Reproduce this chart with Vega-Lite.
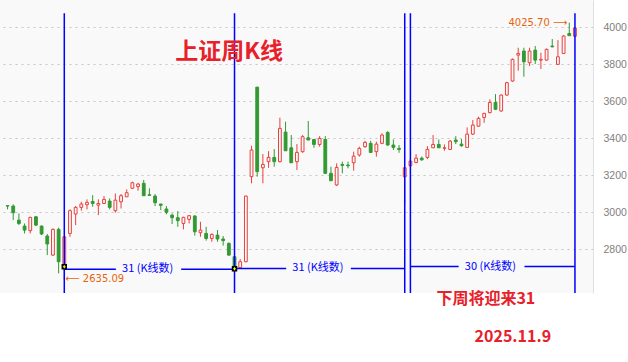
{
  "$schema": "https://vega.github.io/schema/vega-lite/v6.json",
  "width": 593,
  "height": 293,
  "autosize": {"type": "none"},
  "padding": {"left": 0, "top": 0, "right": 35, "bottom": 69},
  "background": "#ffffff",
  "config": {
    "view": {"stroke": null, "fill": "#f9f9f9"},
    "axisY": {"grid": true, "gridDash": [2, 4], "gridColor": "#c4c4c4", "gridWidth": 1, "ticks": false, "labelPadding": 10,
      "labelColor": "#808080", "labelFont": "Liberation Sans", "labelFontSize": 10.5, "domainColor": "#e0e0e0", "domainWidth": 1}
  },
  "datasets": {
    "candles": [
      {"i":0,"o":3036,"h":3036,"l":3016,"c":3034},
      {"i":1,"o":3034,"h":3043,"l":2958,"c":2998},
      {"i":2,"o":2958,"h":2994,"l":2931,"c":2940},
      {"i":3,"o":2926,"h":2940,"l":2886,"c":2904},
      {"i":4,"o":2901,"h":2976,"l":2886,"c":2973},
      {"i":5,"o":2976,"h":2980,"l":2926,"c":2931},
      {"i":6,"o":2926,"h":2928,"l":2877,"c":2883},
      {"i":7,"o":2872,"h":2883,"l":2769,"c":2829},
      {"i":8,"o":2769,"h":2913,"l":2764,"c":2908},
      {"i":9,"o":2908,"h":2917,"l":2670,"c":2733},
      {"i":10,"o":2715,"h":2872,"l":2635,"c":2868},
      {"i":11,"o":2886,"h":3016,"l":2868,"c":3009},
      {"i":12,"o":2991,"h":3034,"l":2931,"c":3027},
      {"i":13,"o":3027,"h":3057,"l":3009,"c":3045},
      {"i":14,"o":3041,"h":3070,"l":3016,"c":3054},
      {"i":15,"o":3059,"h":3093,"l":3030,"c":3048},
      {"i":16,"o":3039,"h":3070,"l":2985,"c":3048},
      {"i":17,"o":3048,"h":3088,"l":3045,"c":3070},
      {"i":18,"o":3061,"h":3075,"l":3016,"c":3027},
      {"i":19,"o":3009,"h":3102,"l":2998,"c":3066},
      {"i":20,"o":3057,"h":3099,"l":3021,"c":3090},
      {"i":21,"o":3084,"h":3124,"l":3084,"c":3106},
      {"i":22,"o":3130,"h":3166,"l":3126,"c":3160},
      {"i":23,"o":3139,"h":3160,"l":3117,"c":3153},
      {"i":24,"o":3157,"h":3175,"l":3090,"c":3090},
      {"i":25,"o":3095,"h":3130,"l":3090,"c":3092},
      {"i":26,"o":3088,"h":3099,"l":3034,"c":3052},
      {"i":27,"o":3045,"h":3046,"l":3012,"c":3038},
      {"i":28,"o":3018,"h":3034,"l":2989,"c":3000},
      {"i":29,"o":2985,"h":2994,"l":2937,"c":2971},
      {"i":30,"o":2971,"h":3007,"l":2922,"c":2955},
      {"i":31,"o":2940,"h":2976,"l":2908,"c":2973},
      {"i":32,"o":2962,"h":2985,"l":2940,"c":2982},
      {"i":33,"o":2980,"h":2985,"l":2874,"c":2895},
      {"i":34,"o":2890,"h":2949,"l":2868,"c":2904},
      {"i":35,"o":2886,"h":2922,"l":2847,"c":2859},
      {"i":36,"o":2859,"h":2886,"l":2841,"c":2881},
      {"i":37,"o":2877,"h":2904,"l":2841,"c":2856},
      {"i":38,"o":2856,"h":2872,"l":2820,"c":2847},
      {"i":39,"o":2832,"h":2838,"l":2765,"c":2769},
      {"i":40,"o":2760,"h":2762,"l":2690,"c":2706},
      {"i":41,"o":2701,"h":2748,"l":2697,"c":2733},
      {"i":42,"o":2733,"h":3090,"l":2730,"c":3088},
      {"i":43,"o":3193,"h":3360,"l":3157,"c":3337},
      {"i":44,"o":3677,"h":3677,"l":3193,"c":3220},
      {"i":45,"o":3241,"h":3315,"l":3157,"c":3259},
      {"i":46,"o":3274,"h":3331,"l":3241,"c":3297},
      {"i":47,"o":3297,"h":3342,"l":3247,"c":3274},
      {"i":48,"o":3274,"h":3512,"l":3270,"c":3454},
      {"i":49,"o":3434,"h":3490,"l":3333,"c":3333},
      {"i":50,"o":3349,"h":3418,"l":3268,"c":3268},
      {"i":51,"o":3274,"h":3369,"l":3229,"c":3324},
      {"i":52,"o":3328,"h":3418,"l":3322,"c":3409},
      {"i":53,"o":3403,"h":3494,"l":3391,"c":3391},
      {"i":54,"o":3394,"h":3394,"l":3349,"c":3367},
      {"i":55,"o":3367,"h":3412,"l":3355,"c":3400},
      {"i":56,"o":3394,"h":3412,"l":3207,"c":3211},
      {"i":57,"o":3211,"h":3247,"l":3171,"c":3171},
      {"i":58,"o":3148,"h":3265,"l":3142,"c":3243},
      {"i":59,"o":3259,"h":3274,"l":3211,"c":3254},
      {"i":60,"o":3256,"h":3274,"l":3238,"c":3252},
      {"i":61,"o":3268,"h":3328,"l":3225,"c":3304},
      {"i":62,"o":3310,"h":3355,"l":3301,"c":3346},
      {"i":63,"o":3355,"h":3387,"l":3349,"c":3378},
      {"i":64,"o":3373,"h":3387,"l":3324,"c":3324},
      {"i":65,"o":3328,"h":3382,"l":3301,"c":3369},
      {"i":66,"o":3373,"h":3427,"l":3369,"c":3418},
      {"i":67,"o":3432,"h":3439,"l":3360,"c":3364},
      {"i":68,"o":3364,"h":3394,"l":3337,"c":3351},
      {"i":69,"o":3346,"h":3364,"l":3322,"c":3340},
      {"i":70,"o":3192,"h":3245,"l":3041,"c":3241},
      {"i":71,"o":3252,"h":3290,"l":3240,"c":3277},
      {"i":72,"o":3270,"h":3315,"l":3265,"c":3293},
      {"i":73,"o":3293,"h":3302,"l":3279,"c":3284},
      {"i":74,"o":3297,"h":3358,"l":3288,"c":3340},
      {"i":75,"o":3349,"h":3418,"l":3349,"c":3367},
      {"i":76,"o":3367,"h":3394,"l":3349,"c":3349},
      {"i":77,"o":3346,"h":3367,"l":3333,"c":3349},
      {"i":78,"o":3340,"h":3391,"l":3337,"c":3385},
      {"i":79,"o":3391,"h":3412,"l":3369,"c":3382},
      {"i":80,"o":3369,"h":3396,"l":3355,"c":3360},
      {"i":81,"o":3351,"h":3459,"l":3351,"c":3423},
      {"i":82,"o":3423,"h":3499,"l":3418,"c":3472},
      {"i":83,"o":3466,"h":3517,"l":3463,"c":3508},
      {"i":84,"o":3513,"h":3538,"l":3484,"c":3535},
      {"i":85,"o":3539,"h":3611,"l":3535,"c":3594},
      {"i":86,"o":3594,"h":3639,"l":3553,"c":3557},
      {"i":87,"o":3548,"h":3638,"l":3544,"c":3634},
      {"i":88,"o":3634,"h":3706,"l":3630,"c":3701},
      {"i":89,"o":3710,"h":3832,"l":3706,"c":3827},
      {"i":90,"o":3850,"h":3890,"l":3766,"c":3859},
      {"i":91,"o":3872,"h":3890,"l":3733,"c":3814},
      {"i":92,"o":3809,"h":3890,"l":3791,"c":3872},
      {"i":93,"o":3877,"h":3899,"l":3802,"c":3823},
      {"i":94,"o":3823,"h":3863,"l":3775,"c":3827},
      {"i":95,"o":3823,"h":3886,"l":3820,"c":3881},
      {"i":96,"o":3899,"h":3937,"l":3892,"c":3895},
      {"i":97,"o":3800,"h":3931,"l":3800,"c":3841},
      {"i":98,"o":3859,"h":3958,"l":3856,"c":3953},
      {"i":99,"o":3967,"h":4025.7,"l":3955,"c":3955},
      {"i":100,"o":3952,"h":3999,"l":3949,"c":3997}
    ],
    "vlines": [{"i":10},{"i":40},{"i":70},{"i":71},{"i":100}],
    "segs": [
      {"a":10,"b":19.1,"v":2693},{"a":30.6,"b":40,"v":2693},
      {"a":40,"b":49.1,"v":2697},{"a":60.5,"b":70,"v":2697},
      {"a":71,"b":79.5,"v":2707},{"a":91.1,"b":100,"v":2707}
    ],
    "seglabels": [
      {"t":"31 (K线数)","i":24.7,"v":2693},
      {"t":"31 (K线数)","i":54.7,"v":2697},
      {"t":"30 (K线数)","i":85.1,"v":2707}
    ],
    "markers": [{"i":10,"v":2706},{"i":40,"v":2695}],
    "lowlabel": [{"t":"⟵ 2635.09","i":10,"v":2639}],
    "highlabel": [{"t":"4025.70 ⟶","i":99,"v":4025.7}],
    "title": [{"t":"上证周K线","i":39.05,"v":3868}],
    "notes": [
      {"t":"下周将迎来31","i":84.3,"v":2531},
      {"t":"2025.11.9","i":89.05,"v":2324}
    ]
  },
  "layer": [
    {
      "data": {"name": "candles"},
      "mark": {"type": "rule", "strokeWidth": 1},
      "encoding": {
        "x": {"field": "i", "type": "quantitative", "scale": {"domain": [-0.45, 102.3], "nice": false, "zero": false}, "axis": null},
        "y": {"field": "l", "type": "quantitative", "scale": {"domain": [2564, 4148], "nice": false, "zero": false},
          "axis": {"orient": "right", "title": null, "format": "d", "values": [2800, 3000, 3200, 3400, 3600, 3800, 4000]}},
        "y2": {"field": "h"},
        "color": {"condition": {"test": "datum.c >= datum.o", "value": "#e8403c"}, "value": "#339933"}
      }
    },
    {
      "data": {"name": "candles"},
      "mark": {"type": "bar", "size": 2.8, "strokeWidth": 1},
      "encoding": {
        "x": {"field": "i", "type": "quantitative", "axis": null},
        "y": {"field": "o", "type": "quantitative", "axis": {"orient": "right", "title": null, "format": "d", "values": [2800, 3000, 3200, 3400, 3600, 3800, 4000]}},
        "y2": {"field": "c"},
        "stroke": {"condition": {"test": "datum.c >= datum.o", "value": "#e8403c"}, "value": "#339933"},
        "fill": {"condition": {"test": "datum.c >= datum.o", "value": "#f9f9f9"}, "value": "#339933"}
      }
    },
    {
      "data": {"name": "vlines"},
      "mark": {"type": "rule", "color": "#0000ff", "strokeWidth": 1.5},
      "encoding": {
        "x": {"field": "i", "type": "quantitative", "axis": null},
        "y": {"datum": 4076, "type": "quantitative", "axis": {"orient": "right", "title": null, "format": "d", "values": [2800, 3000, 3200, 3400, 3600, 3800, 4000]}},
        "y2": {"datum": 2564}
      }
    },
    {
      "data": {"name": "segs"},
      "mark": {"type": "rule", "color": "#0000ff", "strokeWidth": 1.5},
      "encoding": {
        "x": {"field": "a", "type": "quantitative", "axis": null},
        "x2": {"field": "b"},
        "y": {"field": "v", "type": "quantitative", "axis": {"orient": "right", "title": null, "format": "d", "values": [2800, 3000, 3200, 3400, 3600, 3800, 4000]}}
      }
    },
    {
      "data": {"name": "seglabels"},
      "mark": {"type": "text", "color": "#0000ff", "font": "Noto Sans CJK SC", "fontSize": 11, "baseline": "middle", "align": "center"},
      "encoding": {
        "x": {"field": "i", "type": "quantitative", "axis": null},
        "y": {"field": "v", "type": "quantitative", "axis": {"orient": "right", "title": null, "format": "d", "values": [2800, 3000, 3200, 3400, 3600, 3800, 4000]}},
        "text": {"field": "t"}
      }
    },
    {
      "data": {"name": "markers"},
      "mark": {"type": "point", "shape": "square", "filled": true, "color": "#000000", "size": 30, "opacity": 1},
      "encoding": {
        "x": {"field": "i", "type": "quantitative", "axis": null},
        "y": {"field": "v", "type": "quantitative", "axis": {"orient": "right", "title": null, "format": "d", "values": [2800, 3000, 3200, 3400, 3600, 3800, 4000]}}
      }
    },
    {
      "data": {"name": "markers"},
      "mark": {"type": "point", "shape": "cross", "filled": true, "color": "#ffff00", "size": 8, "opacity": 1},
      "encoding": {
        "x": {"field": "i", "type": "quantitative", "axis": null},
        "y": {"field": "v", "type": "quantitative", "axis": {"orient": "right", "title": null, "format": "d", "values": [2800, 3000, 3200, 3400, 3600, 3800, 4000]}}
      }
    },
    {
      "data": {"name": "lowlabel"},
      "mark": {"type": "text", "color": "#e8640c", "font": "DejaVu Sans", "fontSize": 10, "align": "left", "baseline": "middle", "dx": 1},
      "encoding": {
        "x": {"field": "i", "type": "quantitative", "axis": null},
        "y": {"field": "v", "type": "quantitative", "axis": {"orient": "right", "title": null, "format": "d", "values": [2800, 3000, 3200, 3400, 3600, 3800, 4000]}},
        "text": {"field": "t"}
      }
    },
    {
      "data": {"name": "highlabel"},
      "mark": {"type": "text", "color": "#e8640c", "font": "DejaVu Sans", "fontSize": 10, "align": "right", "baseline": "middle", "dx": -2},
      "encoding": {
        "x": {"field": "i", "type": "quantitative", "axis": null},
        "y": {"field": "v", "type": "quantitative", "axis": {"orient": "right", "title": null, "format": "d", "values": [2800, 3000, 3200, 3400, 3600, 3800, 4000]}},
        "text": {"field": "t"}
      }
    },
    {
      "data": {"name": "title"},
      "mark": {"type": "text", "color": "#e8202a", "font": "Noto Sans CJK SC", "fontSize": 23, "fontWeight": "bold", "align": "center", "baseline": "middle"},
      "encoding": {
        "x": {"field": "i", "type": "quantitative", "axis": null},
        "y": {"field": "v", "type": "quantitative", "axis": {"orient": "right", "title": null, "format": "d", "values": [2800, 3000, 3200, 3400, 3600, 3800, 4000]}},
        "text": {"field": "t"}
      }
    },
    {
      "data": {"name": "notes"},
      "mark": {"type": "text", "color": "#e8202a", "font": "Noto Sans CJK SC", "fontSize": 16, "fontWeight": "bold", "align": "center", "baseline": "middle"},
      "encoding": {
        "x": {"field": "i", "type": "quantitative", "axis": null},
        "y": {"field": "v", "type": "quantitative", "axis": {"orient": "right", "title": null, "format": "d", "values": [2800, 3000, 3200, 3400, 3600, 3800, 4000]}},
        "text": {"field": "t"}
      }
    }
  ]
}
